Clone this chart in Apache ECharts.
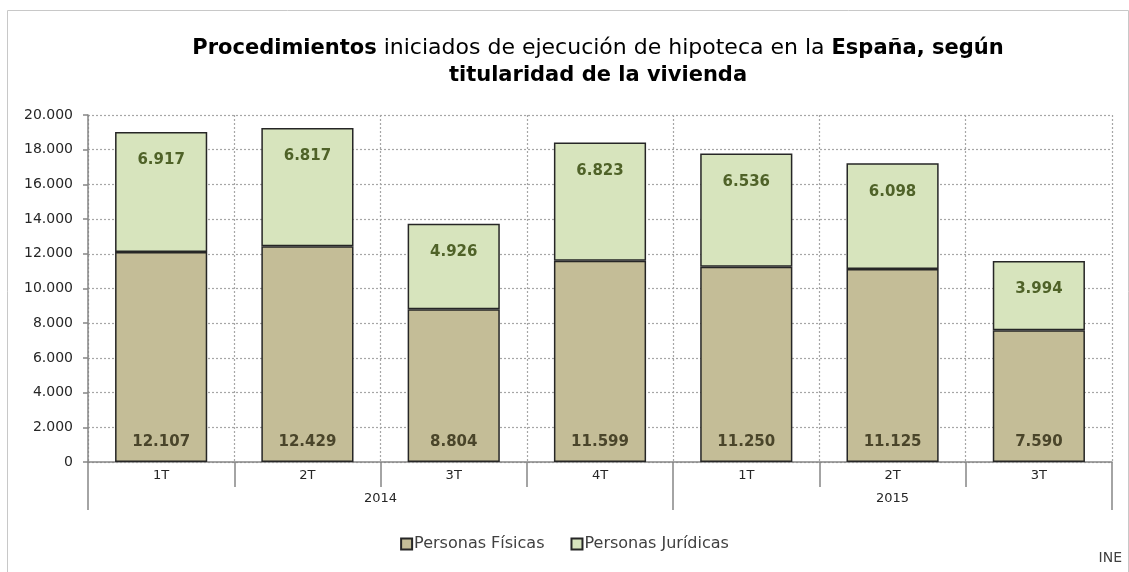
<!DOCTYPE html>
<html>
<head>
<meta charset="utf-8">
<script src="https://cdn.jsdelivr.net/npm/echarts@6/dist/echarts.min.js"></script>
<style>
html, body { margin: 0; padding: 0; background: #fff; }
#chart { width: 1129px; height: 572px; }
</style>
</head>
<body>
<div id="chart"></div>
<script>
const quarters = ['1T', '2T', '3T', '4T', '1T', '2T', '3T']
const years = ['2014', '2015']
const yearStarts = [0, 4, 7] // category boundaries of each year group
const fisicas = [12107, 12429, 8804, 11599, 11250, 11125, 7590]
const juridicas = [6917, 6817, 4926, 6823, 6536, 6098, 3994]
const yTicks = { min: 0, max: 20000, interval: 2000 }

const FONT = 'DejaVu Sans'
const fmt = v => String(v).replace(/\B(?=(\d{3})+(?!\d))/g, '.')
const catKeys = quarters.map((q, i) => q + '_' + i)
const yearCenters = years.map((y, i) => (yearStarts[i] + yearStarts[i + 1]) / 2)

const chart = echarts.init(document.getElementById('chart'))
chart.setOption({
  animation: false,
  textStyle: { fontFamily: FONT },
  title: {
    left: 593,
    top: 30,
    textAlign: 'center',
    text: '{b|Procedimientos} iniciados de ejecución de hipoteca en la {b|España, según}\n{b|titularidad de la vivienda}',
    textStyle: {
      fontFamily: FONT,
      fontSize: 22,
      fontWeight: 'normal',
      color: '#000',
      lineHeight: 27,
      rich: {
        b: { fontFamily: FONT, fontSize: 21, fontWeight: 'bold', color: '#000', lineHeight: 27 }
      }
    }
  },
  graphic: [{
    type: 'rect',
    shape: { x: 7.5, y: 10.5, width: 1121, height: 570 },
    style: { fill: null, stroke: '#c8c8c8', lineWidth: 1 },
    silent: true
  }, {
    type: 'text',
    right: 7,
    top: 551,
    style: { text: 'INE', font: '14px "DejaVu Sans"', fill: '#404040' }
  }],
  legend: {
    bottom: 15,
    left: 'center',
    itemWidth: 11,
    itemHeight: 11,
    itemGap: 26,
    icon: 'rect',
    textStyle: { fontFamily: FONT, fontSize: 16, color: '#404040', padding: [0, 0, 0, -3] },
    data: ['Personas Físicas', 'Personas Jurídicas']
  },
  grid: { left: 88, right: 17, top: 115, bottom: 110 },
  xAxis: [{
    type: 'category',
    data: catKeys,
    axisLine: { lineStyle: { color: '#868686', width: 1.5 } },
    axisTick: { show: true, length: 25, lineStyle: { color: '#868686', width: 1.5 } },
    axisLabel: { formatter: v => v.split('_')[0], color: '#262626', fontSize: 13, margin: 7 },
    splitLine: { show: true, lineStyle: { color: '#a6a6a6', type: [2, 2], width: 1.2 } }
  }, {
    type: 'value',
    position: 'bottom',
    min: yearStarts[0],
    max: yearStarts[yearStarts.length - 1],
    axisLine: { show: false },
    axisTick: { show: true, customValues: yearStarts, length: 48, lineStyle: { color: '#868686', width: 1.5 } },
    axisLabel: {
      customValues: yearCenters,
      formatter: v => years[yearCenters.indexOf(v)] || '',
      color: '#262626',
      fontSize: 13,
      margin: 30
    },
    splitLine: { show: false }
  }],
  yAxis: {
    type: 'value',
    min: yTicks.min,
    max: yTicks.max,
    interval: yTicks.interval,
    axisLine: { show: true, lineStyle: { color: '#868686', width: 1.5 } },
    axisTick: { show: true, length: 5, lineStyle: { color: '#868686', width: 1.5 } },
    axisLabel: { formatter: fmt, color: '#262626', fontSize: 14, margin: 15 },
    splitLine: { lineStyle: { color: '#a6a6a6', type: [2, 2], width: 1.2 } }
  },
  series: [{
    name: 'Personas Físicas',
    type: 'bar',
    stack: 'total',
    barWidth: '63%',
    itemStyle: { color: '#C4BD97', borderColor: '#262626', borderWidth: 1.5 },
    label: {
      show: true,
      position: 'insideBottom',
      distance: 12,
      formatter: p => fmt(p.value),
      color: '#4A452A',
      fontWeight: 'bold',
      fontSize: 15,
      fontFamily: FONT
    },
    data: fisicas
  }, {
    name: 'Personas Jurídicas',
    type: 'bar',
    stack: 'total',
    itemStyle: { color: '#D7E4BD', borderColor: '#262626', borderWidth: 1.5 },
    label: {
      show: true,
      position: 'insideTop',
      distance: 21,
      formatter: p => fmt(p.value),
      color: '#4F6228',
      fontWeight: 'bold',
      fontSize: 15,
      fontFamily: FONT
    },
    data: juridicas
  }]
})
</script>
</body>
</html>
